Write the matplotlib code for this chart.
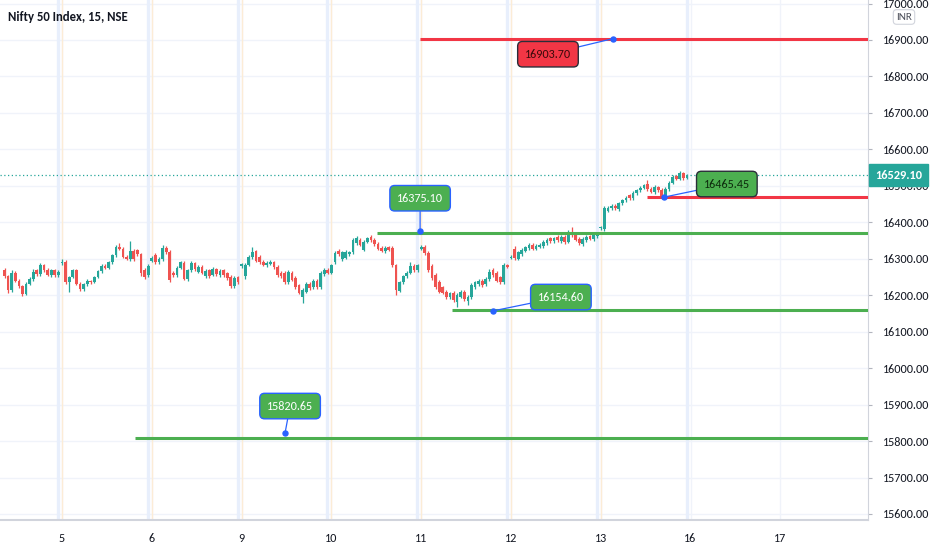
import matplotlib
matplotlib.use("Agg")
import matplotlib.pyplot as plt
from matplotlib.transforms import blended_transform_factory

plt.rcParams['font.family'] = ['Carlito', 'Archivo Narrow', 'Liberation Sans', 'DejaVu Sans']

# ---------------- data ----------------
title = "Nifty 50 Index, 15, NSE"
day_labels = ['5', '6', '9', '10', '11', '12', '13', '16', '17']
day_first_bar = [16, 41, 66, 91, 116, 141, 166, 191, 216]

opens = [
    # Aug 4 (partial)
    16270, 16252, 16214, 16262, 16240, 16226, 16204, 16232, 16245, 16268, 16258, 16283, 16270, 16255, 16268, 16255,
    # Aug 5
    16288, 16292, 16235, 16250, 16268, 16232, 16216, 16230, 16240, 16236, 16250, 16266, 16280, 16276, 16290, 16310,
    16332, 16327, 16306, 16300, 16320, 16324, 16312, 16270, 16255,
    # Aug 6
    16295, 16310, 16290, 16300, 16330, 16318, 16262, 16255, 16276, 16288, 16245, 16268, 16288, 16265, 16278, 16252,
    16268, 16256, 16272, 16255, 16268, 16260, 16250, 16225, 16250,
    # Aug 9
    16280, 16252, 16283, 16305, 16320, 16305, 16292, 16283, 16286, 16290, 16278, 16262, 16262, 16236, 16262, 16247,
    16228, 16195, 16210, 16232, 16222, 16240, 16222, 16258, 16270,
    # Aug 10
    16262, 16290, 16322, 16300, 16303, 16312, 16318, 16343, 16352, 16325, 16346, 16360, 16352, 16340, 16330, 16320,
    16332, 16330, 16283, 16212, 16235, 16252, 16262, 16280, 16268,
    # Aug 11
    16328, 16332, 16316, 16280, 16255, 16235, 16222, 16208, 16195, 16206, 16182, 16196, 16208, 16185, 16195, 16222,
    16230, 16240, 16230, 16245, 16270, 16262, 16250, 16236, 16283,
    # Aug 12
    16302, 16328, 16300, 16312, 16322, 16330, 16338, 16328, 16333, 16334, 16343, 16356, 16348, 16360, 16348, 16360,
    16346, 16372, 16366, 16355, 16340, 16352, 16362, 16355, 16362,
    # Aug 13
    16384, 16382, 16432, 16438, 16446, 16436, 16452, 16460, 16474, 16466, 16480, 16488, 16494, 16506, 16492, 16482,
    16496, 16488, 16470, 16490, 16508, 16526, 16520, 16534, 16522,
]
closes = [
    16252, 16214, 16262, 16240, 16226, 16204, 16232, 16245, 16265, 16258, 16283, 16270, 16255, 16268, 16255, 16265,
    16292, 16235, 16250, 16268, 16232, 16216, 16230, 16240, 16236, 16250, 16266, 16280, 16276, 16290, 16310, 16332,
    16327, 16306, 16300, 16320, 16298, 16312, 16262, 16250, 16280,
    16302, 16290, 16300, 16330, 16318, 16242, 16255, 16276, 16290, 16245, 16268, 16288, 16272, 16278, 16262, 16266,
    16252, 16272, 16258, 16266, 16256, 16247, 16225, 16248, 16236,
    16285, 16283, 16305, 16318, 16295, 16290, 16283, 16288, 16292, 16278, 16255, 16252, 16235, 16265, 16243, 16222,
    16206, 16214, 16232, 16220, 16240, 16222, 16262, 16270, 16262,
    16283, 16316, 16312, 16318, 16318, 16318, 16351, 16357, 16338, 16346, 16357, 16352, 16340, 16328, 16322, 16330,
    16325, 16283, 16215, 16235, 16252, 16262, 16280, 16268, 16282,
    16332, 16316, 16269, 16247, 16222, 16210, 16206, 16195, 16206, 16187, 16200, 16210, 16190, 16196, 16228, 16235,
    16240, 16228, 16245, 16265, 16255, 16240, 16236, 16283, 16278,
    16305, 16302, 16318, 16325, 16332, 16338, 16328, 16336, 16338, 16346, 16352, 16348, 16357, 16352, 16360, 16346,
    16371, 16365, 16352, 16343, 16355, 16360, 16355, 16364, 16367,
    16386, 16440, 16440, 16446, 16438, 16452, 16461, 16468, 16466, 16480, 16488, 16494, 16502, 16490, 16484, 16496,
    16488, 16470, 16492, 16508, 16524, 16520, 16534, 16522, 16529.10,
]
wick_hi = [
    5, 4, 6, 5, 4, 3, 5, 4, 6, 4, 5, 4, 6, 3, 4, 5,
    6, 4, 3, 5, 4, 3, 4, 5, 3, 4, 4, 5, 6, 4, 3, 5, 10, 4, 5, 30, 8, 4, 5, 6, 5,
    5, 6, 4, 8, 4, 6, 5, 4, 5, 5, 4, 6, 4, 5, 4, 5, 4, 5, 4, 5, 4, 4, 5, 6, 4,
    4, 5, 6, 15, 4, 5, 4, 5, 4, 3, 4, 5, 4, 5, 4, 5, 4, 6, 5, 4, 5, 4, 5, 4, 4,
    4, 5, 6, 4, 5, 4, 6, 5, 4, 5, 4, 5, 4, 5, 4, 5, 4, 6, 4, 5, 4, 4, 10, 5, 4,
    6, 5, 4, 6, 5, 6, 4, 5, 4, 5, 6, 4, 5, 4, 5, 4, 5, 4, 5, 6, 4, 5, 4, 5, 4,
    5, 8, 4, 5, 4, 5, 4, 5, 4, 5, 4, 5, 4, 5, 4, 5, 9, 14, 4, 5, 4, 5, 4, 5, 4,
    4, 5, 4, 5, 4, 5, 4, 5, 4, 5, 4, 5, 4, 9, 4, 5, 4, 5, 4, 5, 6, 5, 8, 5, 4,
]
wick_lo = [
    4, 9, 5, 4, 5, 6, 4, 3, 5, 4, 4, 5, 3, 4, 5, 4,
    4, 5, 26, 4, 5, 4, 4, 5, 4, 3, 4, 4, 3, 5, 4, 4, 4, 5, 4, 6, 4, 5, 8, 5, 4,
    4, 5, 4, 5, 4, 6, 4, 5, 4, 4, 5, 4, 5, 4, 5, 4, 5, 4, 5, 4, 5, 4, 6, 5, 4,
    4, 8, 4, 5, 4, 5, 4, 5, 4, 5, 4, 5, 4, 5, 4, 5, 4, 17, 4, 5, 4, 5, 6, 4, 5,
    4, 5, 4, 5, 4, 5, 4, 5, 4, 5, 4, 5, 4, 5, 4, 5, 4, 5, 15, 4, 5, 4, 5, 4, 5,
    4, 5, 4, 5, 4, 5, 4, 5, 4, 5, 15, 4, 5, 13, 4, 5, 4, 5, 4, 5, 4, 5, 4, 5, 4,
    4, 5, 4, 5, 4, 5, 4, 5, 4, 5, 4, 5, 4, 5, 4, 5, 4, 5, 4, 5, 4, 5, 4, 5, 4,
    4, 5, 4, 5, 4, 5, 4, 5, 4, 5, 4, 5, 4, 5, 4, 5, 4, 5, 4, 5, 4, 5, 4, 5, 4,
]
last_price = 16529.10

# drawn levels
level_labels = ['16903.70', '16375.10', '16154.60', '16465.45', '15820.65']
line_prices = [16904, 16372, 16160, 16469, 15808]
anchor_prices = [16903.70, 16375.10, 16157, 16469, 15822]

# ---------------- layout / styles ----------------
line_start = [115.7, 103.7, 124.6, 178.9, 36.3]
anchor_x = [169.4, 115.7, 136.0, 183.6, 78.1]
box_xy = [(151.3, 16861), (115.7, 16466), (154.9, 16195), (201.1, 16505), (79.5, 15896)]
line_colors = ['#f23645', '#4caf50', '#4caf50', '#f23645', '#4caf50']
box_face = ['#f23645', '#4caf50', '#4caf50', '#4caf50', '#4caf50']
box_edge = ['#2a2e39', '#2962ff', '#2962ff', '#2a2e39', '#2962ff']
box_text = ['#3b0a0a', 'white', 'white', '#0d2b0d', 'white']

UP = '#26a69a'
DN = '#ef5350'
TXT = '#131722'
FS = 8.3

W, H = 932, 550
fig = plt.figure(figsize=(W / 100, H / 100), dpi=100)
ax = fig.add_axes([0, 30 / H, 868 / W, 520 / H])
XMIN, XMAX = -1.26, 240.4
ax.set_xlim(XMIN, XMAX)
ax.set_ylim(15583.5, 17009.7)

# grid
for p in range(15600, 17001, 100):
    ax.axhline(p, color='#f0f3fa', lw=1.0, zorder=0)
for b in day_first_bar:
    ax.axvline(b, color='#f0f3fa', lw=1.0, zorder=0)
for b in day_first_bar[:8]:
    ax.axvline(b - 1.1, color='#e8effc', lw=2.4, zorder=0.5)
for b in day_first_bar[:7]:
    ax.axvline(b, color='#fcecd6', lw=1.0, zorder=0.6)

# candles
n = len(closes)
xs = list(range(n))
body_lo = [min(o, c) for o, c in zip(opens, closes)]
body_h = [max(abs(c - o), 1.0) for o, c in zip(opens, closes)]
cols = [UP if c >= o else DN for o, c in zip(opens, closes)]
highs = [max(o, c) + w for o, c, w in zip(opens, closes, wick_hi)]
lows = [min(o, c) - w for o, c, w in zip(opens, closes, wick_lo)]
ax.vlines(xs, lows, highs, colors=cols, lw=0.9, zorder=2)
ax.bar(xs, body_h, bottom=body_lo, width=0.76, color=cols, linewidth=0, zorder=3)

# last price dotted line
ax.axhline(last_price, color=UP, lw=0.9, ls=(0, (1, 2)), zorder=1)

# drawn levels & callouts
for i in range(len(level_labels)):
    ax.hlines(line_prices[i], line_start[i], XMAX + 1, colors=line_colors[i], lw=2.2, zorder=4)
    ax.annotate(level_labels[i], xy=(anchor_x[i], anchor_prices[i]), xytext=box_xy[i],
                ha='center', va='center', fontsize=FS + 0.4, color=box_text[i], zorder=6,
                bbox=dict(boxstyle='round,pad=0.6,rounding_size=0.4', fc=box_face[i],
                          ec=box_edge[i], lw=1.0),
                arrowprops=dict(arrowstyle='-', color='#2962ff', lw=0.9, shrinkA=0, shrinkB=0))
    ax.plot(anchor_x[i], anchor_prices[i], 'o', ms=3.6, color='#2962ff', zorder=7)

# axes styling
for s in ['top', 'left']:
    ax.spines[s].set_visible(False)
ax.spines['right'].set_color('#d1d4dc')
ax.spines['bottom'].set_color('#d1d4dc')
ax.spines['bottom'].set_linewidth(1.5)
ax.yaxis.tick_right()
ax.set_yticks(list(range(15600, 17001, 100)))
ax.set_yticklabels([f"{p:.2f}" for p in range(15600, 17001, 100)])
ax.tick_params(axis='y', length=3, color='#b2b5be', pad=8, labelsize=FS + 0.4, labelcolor=TXT)
ax.set_xticks(day_first_bar)
ax.set_xticklabels(day_labels)
ax.tick_params(axis='x', length=0, pad=9, labelsize=FS + 0.4, labelcolor=TXT)

# last price tag
tr = blended_transform_factory(ax.transAxes, ax.transData)
ax.text(1.0 + 7 / 868, last_price, f"{last_price:.2f}", transform=tr, ha='left', va='center',
        fontsize=FS + 0.6, fontweight='bold', color='white', clip_on=False, zorder=10,
        bbox=dict(boxstyle='square,pad=0.45', fc=UP, ec=UP))

# INR badge
fig.text(904 / W, 1 - 17 / H, 'INR', ha='center', va='center', fontsize=FS - 0.3, color='#50535e',
         bbox=dict(boxstyle='round,pad=0.25,rounding_size=0.3', fc='white', ec='#d1d4dc', lw=0.8))

# title
fig.text(8 / W, 1 - 17 / H, title, ha='left', va='center', fontsize=9.2, fontweight='semibold', color=TXT)

fig.savefig('out.png', dpi=100)
